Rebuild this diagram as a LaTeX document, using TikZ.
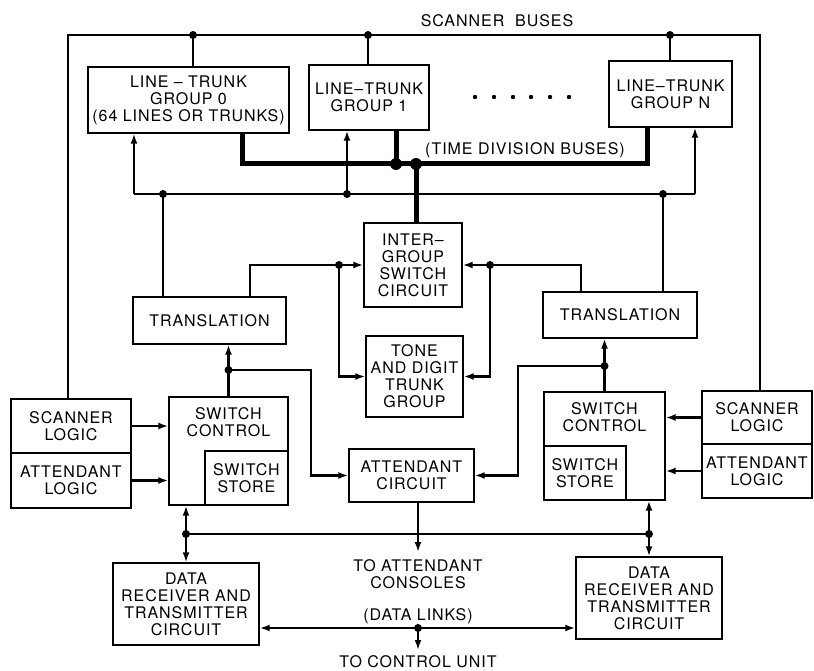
\documentclass[tikz,border=0pt]{standalone}
\usepackage{fontspec}
\setmainfont{TeX Gyre Heros}[LetterSpace=6]
\usetikzlibrary{arrows.meta}
\tikzset{
  blk/.style={draw, line width=1.4pt, align=center, inner sep=0pt, font=\fontsize{16}{17}\selectfont},
  txt/.style={align=center, inner sep=0pt, font=\fontsize{16}{17}\selectfont},
  ctl/.style={anchor=north, yshift=-11pt, align=center, inner sep=0pt, font=\fontsize{16}{17}\selectfont},
  wire/.style={line width=2.2pt},
  arr/.style={wire, -{Latex[length=10pt,width=7pt]}},
  arrs/.style={wire, {Latex[length=10pt,width=7pt]}-{Latex[length=10pt,width=7pt]}},
  tdm/.style={line width=5pt},
}
\begin{document}
\begin{tikzpicture}[x=1pt,y=-1pt]
	\useasboundingbox (0,0) rectangle (814,671);
	
	\node[blk, minimum width=201, minimum height=66] (lt0) at (188.5,100) {LINE -- TRUNK\\GROUP 0\\(64 LINES OR TRUNKS)};
	\node[blk, minimum width=120, minimum height=65] (lt1) at (369,97.5) {LINE--TRUNK\\GROUP 1};
	\node[blk, minimum width=123, minimum height=66] (ltn) at (670.5,94) {LINE--TRUNK\\GROUP N};
	\foreach \x in {475,494,513,531,550,569}
		\fill (\x,97) circle (2.2pt);
	
	\node[blk, minimum width=153, minimum height=47] (trl) at (209.5,320.5) {TRANSLATION};
	\node[blk, minimum width=154, minimum height=46] (trr) at (620,315) {TRANSLATION};
	\node[blk, minimum width=98, minimum height=84] (inter) at (413,265) {INTER--\\GROUP\\SWITCH\\CIRCUIT};
	\node[blk, minimum width=97, minimum height=81] (tone) at (414.5,376.5) {TONE\\AND DIGIT\\TRUNK\\GROUP};
	
	\node[blk, minimum width=119, minimum height=108, label={[ctl]north:SWITCH\\CONTROL}] (swl) at (228.5,451) {};
	\node[blk, minimum width=83, minimum height=54] (sstl) at (246.5,478) {SWITCH\\STORE};
	\node[blk, minimum width=121, minimum height=108, label={[ctl]north:SWITCH\\CONTROL}] (swr) at (604.5,446) {};
	\node[blk, minimum width=82, minimum height=54] (sstr) at (585,473) {SWITCH\\STORE};
	
	\node[blk, minimum width=120, minimum height=54] (scl) at (71,426) {SCANNER\\LOGIC};
	\node[blk, minimum width=120, minimum height=55] (atl) at (71,480.5) {ATTENDANT\\LOGIC};
	\node[blk, minimum width=110, minimum height=53] (scr) at (757,417.5) {SCANNER\\LOGIC};
	\node[blk, minimum width=110, minimum height=54] (atr) at (757,471) {ATTENDANT\\LOGIC};
	
	\node[blk, minimum width=125, minimum height=53] (att) at (411.5,475.5) {ATTENDANT\\CIRCUIT};
	\node[blk, minimum width=146, minimum height=82] (dtl) at (186,604) {DATA\\RECEIVER AND\\TRANSMITTER\\CIRCUIT};
	\node[blk, minimum width=146, minimum height=82] (dtr) at (649,598) {DATA\\RECEIVER AND\\TRANSMITTER\\CIRCUIT};
	
	\node[txt] (sbl) at (497,21) {SCANNER\ \ BUSES};
	\node[txt] (tdl) at (525,150) {(TIME DIVISION BUSES)};
	\node[txt] (acl) at (418,574) {TO ATTENDANT\\CONSOLES};
	\node[txt] (dll) at (418,616) {(DATA LINKS)};
	\node[txt] (cul) at (418,662) {TO CONTROL UNIT};
	
	% scanner buses
	\coordinate (sb) at (414,35);
	\coordinate (s0) at (193,35);
	\coordinate (s1) at (368,35);
	\coordinate (sn) at (670,35);
	\draw[wire] ([xshift=-3pt]scl.north) |- (sb) -| ([xshift=3pt]scr.north);
	\draw[wire] (s0) -- (s0 |- lt0.north);
	\draw[wire] (s1) -- (s1 |- lt1.north);
	\draw[wire] (sn) -- (sn |- ltn.north);
	\fill (s0) circle (4pt);
	\fill (s1) circle (4pt);
	\fill (sn) circle (4pt);
	
	% time division buses
	\coordinate (da) at (242,164);
	\coordinate (d1) at (396,164);
	\coordinate (d2) at (416,164);
	\coordinate (db) at (647,164);
	\draw[tdm] (da |- lt0.south) -- (da) -- (db) -- (db |- ltn.south);
	\draw[tdm] (d1 |- lt1.south) -- (d1);
	\draw[tdm] (d2) -- (d2 |- inter.north);
	\fill (d1) circle (6pt);
	\fill (d2) circle (6pt);
	
	% translation buses
	\coordinate (ta) at (134,194);
	\coordinate (t0) at (163,194);
	\coordinate (t1) at (347,194);
	\coordinate (tn) at (663,194);
	\coordinate (tb) at (695,194);
	\draw[wire] (ta) -- (tb);
	\draw[arr] (ta) -- (ta |- lt0.south);
	\draw[arr] (t1) -- (t1 |- lt1.south);
	\draw[arr] (tb) -- (tb |- ltn.south);
	\draw[wire] (t0) -- (t0 |- trl.north);
	\draw[wire] (tn) -- (tn |- trr.north);
	\fill (t0) circle (4pt);
	\fill (t1) circle (4pt);
	\fill (tn) circle (4pt);
	
	\coordinate (gl) at (339,265);
	\coordinate (gr) at (490,265);
	\draw[wire] ([xshift=40.5pt]trl.north) |- (gl);
	\draw[arr] (gl) -- (inter.west);
	\draw[arr] (gl) |- (tone.west);
	\draw[wire] ([xshift=-39pt]trr.north) |- (gr);
	\draw[arr] (gr) -- (inter.east);
	\draw[arr] (gr) |- (tone.east);
	\fill (gl) circle (4pt);
	\fill (gr) circle (4pt);
	
	% switch control
	\coordinate (cl) at (228.5,370);
	\coordinate (cr) at (604.5,366);
	\draw[arr] (swl.north) -- (swl.north |- trl.south);
	\draw[arr] (cl) -| ([xshift=-37pt]att.west) -- (att.west);
	\draw[arr] (swr.north) -- (swr.north |- trr.south);
	\draw[arr] (cr) -| ([xshift=43pt]att.east) -- (att.east);
	\fill (cl) circle (4pt);
	\fill (cr) circle (4pt);
	
	\draw[arr] (scl.east) -- (scl.east -| swl.west);
	\draw[arr] (atl.east) -- (atl.east -| swl.west);
	\draw[arr] (scr.west) -- (scr.west -| swr.east);
	\draw[arr] (atr.west) -- (atr.west -| swr.east);
	
	% data
	\coordinate (bl) at (186,534);
	\coordinate (br) at (649,534);
	\draw[arrs] (dtl.north |- swl.south) -- (dtl.north);
	\draw[arrs] (dtr.north |- swr.south) -- (dtr.north);
	\draw[wire] (bl) -- (br);
	\fill (bl) circle (4pt);
	\fill (br) circle (4pt);
	
	\coordinate (ac) at (418,552);
	\draw[arr] (ac |- att.south) -- (ac);
	
	\coordinate (dl) at (418,628);
	\coordinate (cu) at (418,650);
	\draw[arrs] (dtl.east |- dl) -- (dtr.west |- dl);
	\draw[arr] (dl) -- (cu);
	\fill (dl) circle (4pt);
	
\end{tikzpicture}
\end{document}
